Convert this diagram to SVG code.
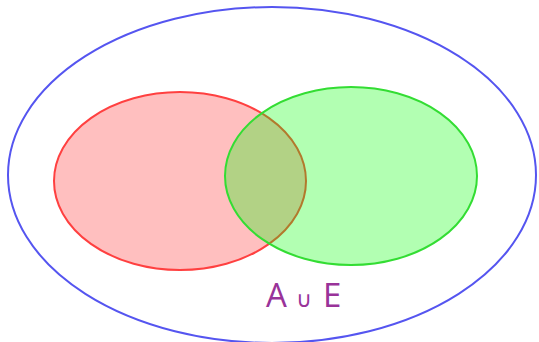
<svg xmlns="http://www.w3.org/2000/svg" width="539" height="342" viewBox="0 0 539 342">
<style>
.lbl{font-family:"Open Sans","DejaVu Sans",sans-serif;fill:#993399}
</style>
<rect width="539" height="342" fill="#ffffff"/>
<g id="universe"><ellipse cx="272" cy="175" rx="264" ry="168" fill="none" stroke="#5555f0" stroke-width="2"/></g>
<g id="A"><ellipse cx="180" cy="181" rx="126" ry="89" fill="#ff0000" fill-opacity="0.25" stroke="#ff4040" stroke-width="2"/></g>
<g id="E"><ellipse cx="351" cy="176" rx="126" ry="89" fill="#00ff00" fill-opacity="0.3" stroke="#33dd33" stroke-width="2"/></g>
<g id="label">
<text class="lbl" y="307"><tspan x="266" font-size="33">A</tspan><tspan x="296" font-size="22">∪</tspan><tspan x="323" font-size="33">E</tspan></text>
</g>
</svg>
